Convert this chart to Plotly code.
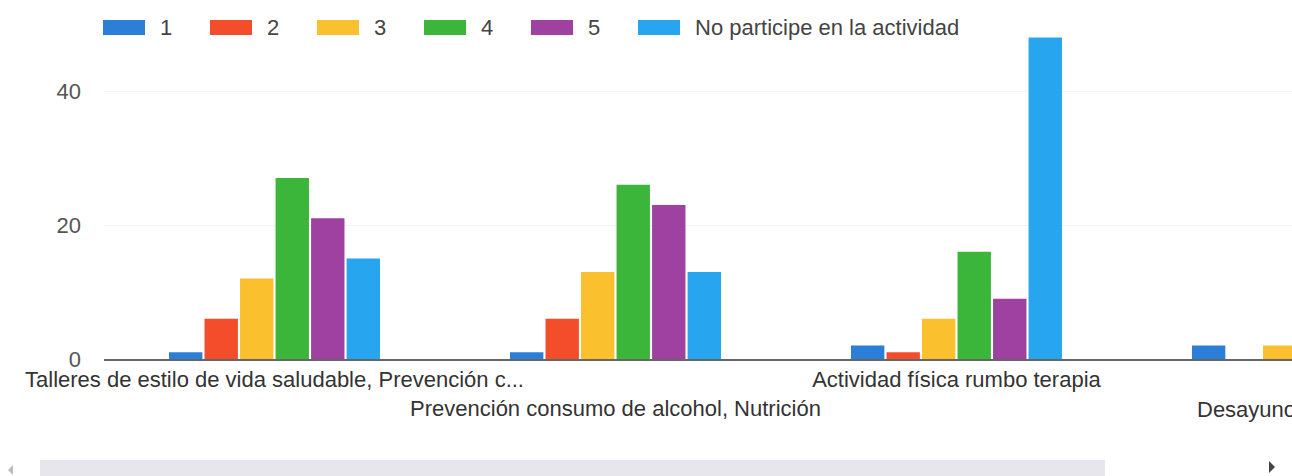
import plotly.graph_objects as go

categories = [
    "Talleres de estilo de vida saludable, Prevención c...",
    "Prevención consumo de alcohol, Nutrición",
    "Actividad física rumbo terapia",
    "Desayuno saludable",
]
series_names = ["1", "2", "3", "4", "5", "No participe en la actividad"]
vals_1 = [1, 1, 2, 2]
vals_2 = [6, 6, 1, 0]
vals_3 = [12, 13, 6, 2]
vals_4 = [27, 26, 16, None]
vals_5 = [21, 23, 9, None]
vals_6 = [15, 13, 48, None]
y_ticks = [0, 20, 40]

series_vals = [vals_1, vals_2, vals_3, vals_4, vals_5, vals_6]
colors = ["#2b7fd6", "#f44d2c", "#fbc02d", "#3cb53b", "#9e41a1", "#27a6ef"]

W, H = 1292, 476
ML, MR, MT, MB = 104, 0, 24, 117
PW, PH = W - ML - MR, H - MT - MB


def px_x(p):
    return (p - ML) / PW


def px_y(p):
    return (H - MB - p) / PH


FONT = "Liberation Sans"
FS = 22
fig = go.Figure()
for name, vals, col in zip(series_names, series_vals, colors):
    fig.add_trace(go.Bar(x=categories, y=vals, name=name, marker_color=col,
                         marker_line_width=0))

ticktext = [c if i % 2 == 0 else "<br>" + c for i, c in enumerate(categories)]

fig.update_layout(
    width=W, height=H,
    margin=dict(l=ML, r=MR, t=MT, b=MB),
    paper_bgcolor="white", plot_bgcolor="white",
    barmode="group", bargap=0.375, bargroupgap=0.06,
    font=dict(family=FONT, size=FS, color="#444"),
    showlegend=False,
    xaxis=dict(range=[-0.5, 2.984], tickmode="array", tickvals=categories[:3],
               ticktext=ticktext[:3], tickangle=0, automargin=False,
               showline=True, linecolor="#666", linewidth=2,
               showgrid=False, ticks="", tickfont=dict(color="#333", size=FS),
               fixedrange=True),
    yaxis=dict(range=[0, 50], tickmode="array", tickvals=y_ticks, automargin=False,
               showgrid=True, gridcolor="#f3f3f3", zeroline=False,
               ticks="", ticklabelstandoff=22, tickfont=dict(color="#555", size=FS),
               fixedrange=True),
)

# legend (wide colour swatches like the original widget)
for i, (name, col) in enumerate(zip(series_names, colors)):
    x0 = 103 + 107 * i
    fig.add_shape(type="rect", xref="paper", yref="paper",
                  x0=px_x(x0), x1=px_x(x0 + 42), y0=px_y(35), y1=px_y(20),
                  fillcolor=col, line_width=0)
    fig.add_annotation(x=px_x(x0 + 55), xref="paper", xanchor="left",
                       y=px_y(27.5), yref="paper", yanchor="middle",
                       text=name, showarrow=False,
                       font=dict(family=FONT, size=FS, color="#444"))

# cut-off fourth category label (the chart is horizontally scrolled)
fig.add_annotation(x=px_x(1195), xref="paper", xanchor="left",
                   y=px_y(395), yref="paper", yanchor="top",
                   text=categories[3], showarrow=False,
                   font=dict(family=FONT, size=FS, color="#333"))

# horizontal scrollbar of the chart widget
fig.add_shape(type="rect", xref="paper", yref="paper",
              x0=px_x(40), x1=px_x(1105), y0=px_y(476), y1=px_y(460),
              fillcolor="#e6e6ec", line_width=0, layer="above")
fig.add_shape(type="path", xref="paper", yref="paper",
              path="M %f %f L %f %f L %f %f Z" % (px_x(1269), px_y(461), px_x(1275), px_y(467),
                                                  px_x(1269), px_y(473)),
              fillcolor="#444", line_width=0)
fig.add_shape(type="path", xref="paper", yref="paper",
              path="M %f %f L %f %f L %f %f Z" % (px_x(13), px_y(465), px_x(8), px_y(470),
                                                  px_x(13), px_y(475)),
              fillcolor="#bbb", line_width=0)

fig.write_html("out.html", config={"displayModeBar": False},
               post_script="document.body.style.margin='0';")
